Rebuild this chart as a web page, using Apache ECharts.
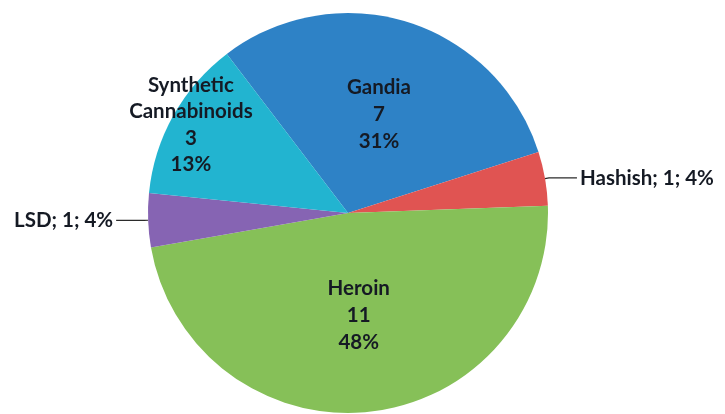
<!DOCTYPE html>
<html>
<head>
<meta charset="utf-8">
<script src="https://cdn.jsdelivr.net/npm/echarts@6/dist/echarts.min.js"></script>
<style>
  html, body { margin: 0; padding: 0; background: #ffffff; }
  #chart { width: 725px; height: 414px; }
</style>
</head>
<body>
<div id="chart"></div>
<script>
// Drug categories, counts and the rounded shares printed on the slices
const categories = ['Gandia', 'Hashish', 'Heroin', 'LSD', 'Synthetic\nCannabinoids'];
const counts = [7, 1, 11, 1, 3];
const shares = ['31%', '4%', '48%', '4%', '13%'];
const colors = ['#2e82c6', '#e05452', '#86c058', '#8664b3', '#22b4d0'];

// How each slice is labelled: inside text, outside callout, or via the outer ring
const labelModes = ['inside', 'outside', 'inside', 'outside', 'ring'];

const font = 'Lato, "Open Sans", "Liberation Sans", sans-serif';
const baseText = {
  fontFamily: font,
  fontWeight: 'bold',
  fontSize: 20.5,
  color: '#151a24'
};

const insideLabel = (i) => categories[i] + '\n' + counts[i] + '\n' + shares[i];
const calloutLabel = (i) => categories[i] + '; ' + counts[i] + '; ' + shares[i];

const mainData = categories.map((name, i) => {
  const mode = labelModes[i];
  const item = {
    name: name,
    value: counts[i],
    itemStyle: { color: colors[i] }
  };
  if (mode === 'inside') {
    item.label = Object.assign({ show: true, position: 'inside', lineHeight: 27,
      formatter: insideLabel(i) }, baseText);
    item.labelLine = { show: false };
  } else if (mode === 'outside') {
    item.label = Object.assign({ show: true, position: 'outside',
      formatter: calloutLabel(i), distanceToLabelLine: 3 }, baseText);
    item.labelLine = { show: true, length: 4, length2: 28, smooth: false,
      lineStyle: { color: '#2b2b2b', width: 1.2 } };
  } else {
    item.label = { show: false };
    item.labelLine = { show: false };
  }
  return item;
});

// Transparent ring sharing the same values: places labels nearer the rim
const ringData = categories.map((name, i) => ({
  name: name,
  value: counts[i],
  itemStyle: { color: 'rgba(0,0,0,0)' },
  label: labelModes[i] === 'ring'
    ? Object.assign({ show: true, position: 'inside', lineHeight: 26.5,
        formatter: insideLabel(i) }, baseText)
    : { show: false },
  labelLine: { show: false }
}));

const chart = echarts.init(document.getElementById('chart'), null, { renderer: 'canvas' });
chart.setOption({
  backgroundColor: '#ffffff',
  animation: false,
  series: [
    {
      type: 'pie',
      center: [348, 213],
      radius: [0, 200],
      startAngle: 127.3,
      clockwise: true,
      avoidLabelOverlap: false,
      itemStyle: { borderWidth: 0 },
      emphasis: { disabled: true },
      data: mainData
    },
    {
      type: 'pie',
      center: [348, 213],
      radius: [152, 202],
      startAngle: 127.3,
      clockwise: true,
      silent: true,
      avoidLabelOverlap: false,
      itemStyle: { borderWidth: 0 },
      emphasis: { disabled: true },
      data: ringData
    }
  ]
});
</script>
</body>
</html>
